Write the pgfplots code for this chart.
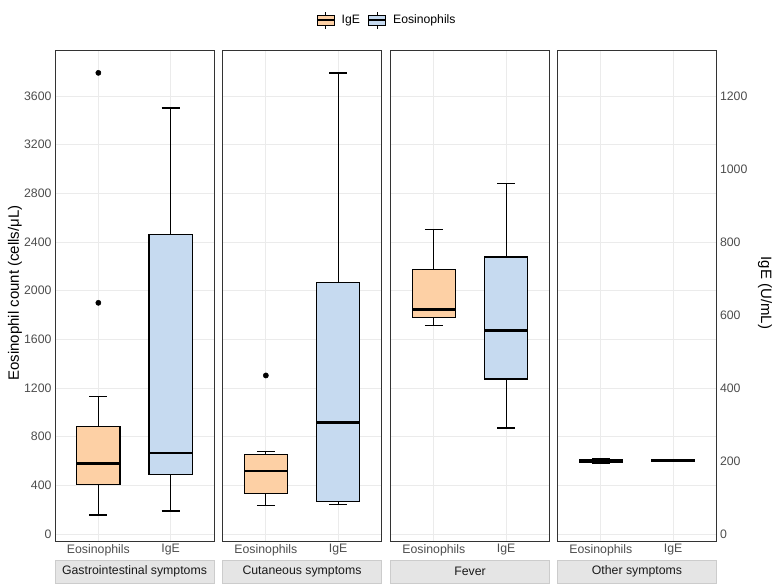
\documentclass[border=0pt]{standalone}
\usepackage{fontspec}
\setmainfont{Liberation Sans}
\usepackage{pgfplots}
\pgfplotsset{compat=1.18}
\usepgfplotslibrary{statistics}

\definecolor{boxA}{HTML}{FDD0A5}
\definecolor{boxB}{HTML}{C6DAF0}
\definecolor{gridc}{HTML}{EBEBEB}
\definecolor{framec}{HTML}{333333}
\definecolor{tickc}{HTML}{4D4D4D}
\definecolor{stripc}{HTML}{E5E5E5}
\definecolor{stripd}{HTML}{CCCCCC}
\definecolor{stript}{HTML}{1A1A1A}

\pgfplotsset{
  panel/.style={
    scale only axis, width=159pt, height=491pt,
    xmin=0.4, xmax=2.6, ymin=-57.6, ymax=3978,
    xtick={1,2}, xticklabels={Eosinophils,IgE},
    ytick={0,400,...,3600},
    major tick length=0pt,
    grid=major, major grid style={draw=gridc, line width=0.8pt},
    axis line style={draw=framec, line width=0.8pt},
    tick label style={font=\fontsize{12.3}{14}\selectfont, text=tickc},
    /pgf/number format/assume math mode=true,
    /pgf/number format/1000 sep={},
    boxplot/draw direction=y,
    clip=false,
  },
  bx/.style={
    solid, black, line width=1.15pt,
    mark=*, mark size=2.6pt, mark options={fill=black, line width=0.5pt},
    boxplot/box extend=0.6, boxplot/whisker extend=0.25,
    boxplot/every box/.style={draw=black, line width=1.15pt, fill=#1},
    boxplot/every median/.style={line width=2.6pt},
  },
  keyA/.style={legend image code/.code={
    \draw[black, line width=0.9pt] (8.5pt,-8.5pt)--(8.5pt,8.5pt);
    \draw[black, line width=0.9pt, fill=#1] (0pt,-5pt) rectangle (17pt,5pt);
    \draw[black, line width=1.2pt] (0pt,0pt)--(17pt,0pt);}},
}

\newcommand{\strip}[1]{%
  \draw[fill=stripc, draw=stripd, line width=0.6pt]
    (rel axis cs:0,-0.0387) rectangle (rel axis cs:1,-0.0855);
  \node[font=\fontsize{12.3}{14}\selectfont, text=stript]
    at (rel axis cs:0.5,-0.0621) {#1};
}

\begin{document}
\begin{tikzpicture}
\useasboundingbox (0,0) rectangle (778pt,586pt);

% Gastrointestinal symptoms
\begin{axis}[panel, at={(55pt,45pt)},
  ylabel={Eosinophil count (cells/μL)},
  ylabel style={font=\fontsize{15}{18}\selectfont, text=black,
    at={(rel axis cs:-0.252,0.505)}, anchor=center},
  legend style={at={(2.088,1.061)}, anchor=center, draw=none, fill=none,
    font=\fontsize{12.2}{14}\selectfont, legend columns=2,
    /tikz/every odd column/.append style={column sep=5pt},
    /tikz/every even column/.append style={column sep=6pt}},
  legend cell align=left]
\addlegendimage{keyA=boxA}
\addlegendentry{IgE}
\addlegendimage{keyA=boxB}
\addlegendentry{Eosinophils}
\addplot[bx=boxA, boxplot prepared={draw position=1,
  lower whisker=156, lower quartile=410, median=580,
  upper quartile=881, upper whisker=1130}]
  table[row sep=\\, y index=0] {1900\\ 3790\\};
\addplot[bx=boxB, boxplot prepared={draw position=2,
  lower whisker=189, lower quartile=487, median=665,
  upper quartile=2463, upper whisker=3501}] coordinates {};
\strip{Gastrointestinal symptoms}
\end{axis}

% Cutaneous symptoms
\begin{axis}[panel, at={(222.5pt,45pt)}, yticklabels={}]
\addplot[bx=boxA, boxplot prepared={draw position=1,
  lower whisker=237, lower quartile=331, median=517,
  upper quartile=651, upper whisker=680}]
  table[row sep=\\, y index=0] {1303\\};
\addplot[bx=boxB, boxplot prepared={draw position=2,
  lower whisker=240, lower quartile=266, median=914,
  upper quartile=2066, upper whisker=3789}] coordinates {};
\strip{Cutaneous symptoms}
\end{axis}

% Fever
\begin{axis}[panel, at={(390.5pt,45pt)}, yticklabels={}]
\addplot[bx=boxA, boxplot prepared={draw position=1,
  lower whisker=1711, lower quartile=1777, median=1843,
  upper quartile=2171, upper whisker=2503}] coordinates {};
\addplot[bx=boxB, boxplot prepared={draw position=2,
  lower whisker=871, lower quartile=1274, median=1674,
  upper quartile=2277, upper whisker=2880}] coordinates {};
\strip{Fever}
\end{axis}

% Other symptoms
\begin{axis}[panel, at={(557.5pt,45pt)}, yticklabels={}]
\addplot[bx=boxA, boxplot prepared={draw position=1,
  lower whisker=578, lower quartile=588, median=600,
  upper quartile=612, upper whisker=622}] coordinates {};
\addplot[bx=boxB, boxplot prepared={draw position=2,
  lower whisker=603, lower quartile=603, median=603,
  upper quartile=603, upper whisker=603}] coordinates {};
\strip{Other symptoms}
\end{axis}

% secondary IgE scale (eosinophil scale / 3)
\begin{axis}[at={(557.5pt,45pt)}, scale only axis, width=159pt, height=491pt,
  xmin=0.4, xmax=2.6, ymin=-19.2, ymax=1326,
  axis x line=none, axis y line*=right,
  axis line style={draw=none},
  ytick={0,200,...,1200}, major tick length=0pt,
  tick label style={font=\fontsize{12.3}{14}\selectfont, text=tickc},
  /pgf/number format/assume math mode=true,
  /pgf/number format/1000 sep={},
  ylabel={IgE (U/mL)},
  ylabel style={font=\fontsize{15}{18}\selectfont, text=black, rotate=180,
    at={(rel axis cs:1.305,0.505)}, anchor=center}]
\end{axis}
\end{tikzpicture}
\end{document}
